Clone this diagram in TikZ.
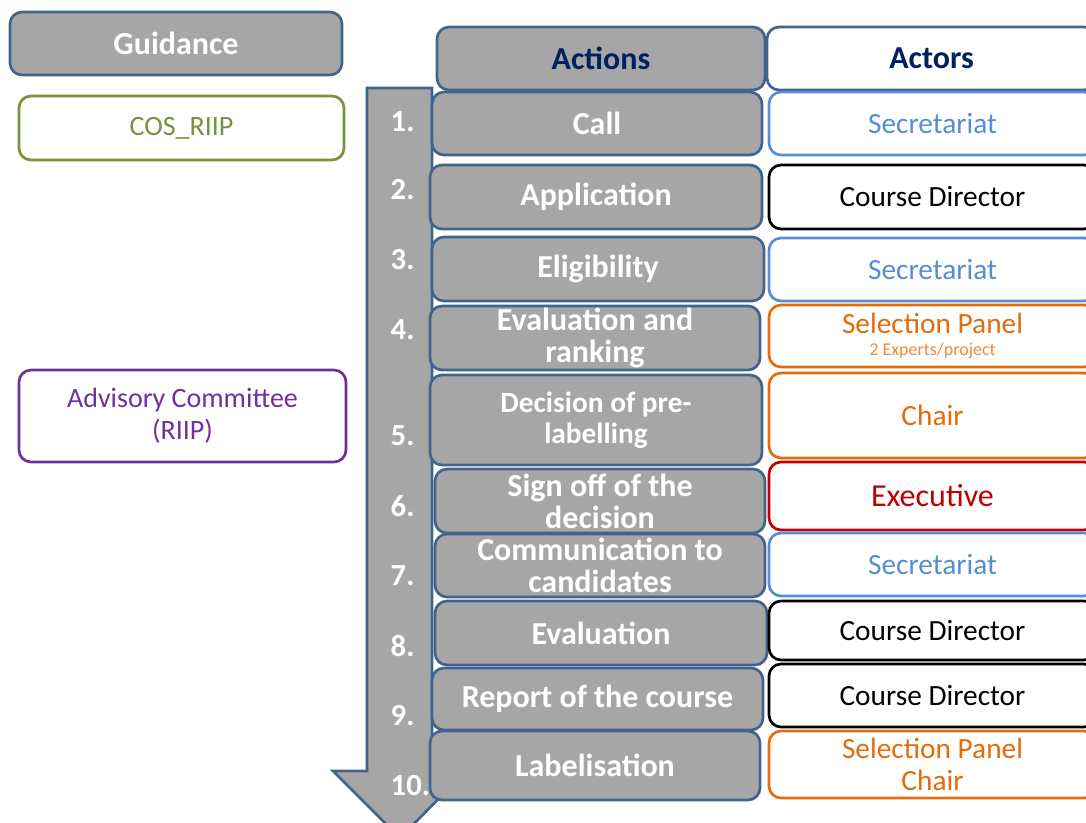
\documentclass[tikz,border=0pt]{standalone}
\usepackage{fontspec}
\setmainfont{Carlito}
\definecolor{boxgray}{HTML}{A6A6A6}
\definecolor{boxblue}{HTML}{41648F}
\definecolor{navy}{HTML}{002060}
\definecolor{lightblue}{HTML}{558ED5}
\definecolor{cosgreen}{HTML}{77933C}
\definecolor{advpurple}{HTML}{7030A0}
\definecolor{panelorange}{HTML}{E46C0A}
\definecolor{paleorange}{HTML}{F08A3C}
\definecolor{execred}{HTML}{C00000}
\begin{document}
\begin{tikzpicture}[x=0.75pt,y=-0.75pt,
    sz/.style 2 args={minimum width=#1*0.75pt, minimum height=#2*0.75pt},
    base/.style={rounded corners=9pt, line width=2pt, inner sep=0pt, align=center},
    act/.style={base, fill=boxgray, draw=boxblue, text=white, font=\bfseries\fontsize{24}{24}\selectfont},
    actor/.style={base, fill=white, draw=#1, text=#1, font=\fontsize{22}{24}\selectfont},
    side/.style={base, fill=white, draw=#1, text=#1, font=\fontsize{21}{24}\selectfont},
    num/.style={anchor=west, text=white, font=\bfseries\fontsize{23}{24}\selectfont}]

    \useasboundingbox (0,0) rectangle (1086,822);

    %big arrow
    \draw [fill=boxgray, draw=boxblue, line width=2pt, line join=miter]
        (367,88) -- (432,88) -- (432,771) -- (466,771) -- (400,838)
        -- (333,771) -- (367,771) -- cycle;

    %numbers
    \foreach \n/\y in {1/122,2/190,3/260,4/330,5/436,6/506,7/576,8/646,9/716,10/786}
        \node [num] (num\n) at (386,\y) {\n.};

    %left column
    \node [act, sz={332}{63}] (guidance) at (176,43.5) {Guidance};
    \node [side=cosgreen, sz={325}{64}] (cos) at (181.5,128) {COS\_RIIP};
    \node [side=advpurple, sz={327}{92}] (advisory) at (182.5,416) {Advisory Committee\\(RIIP)};

    %headers
    \node [act, text=navy, sz={328}{63}] (actions) at (601,58.5) {Actions};
    \node [base, fill=white, draw=boxblue, text=navy, font=\bfseries\fontsize{24}{24}\selectfont,
        sz={329}{63}] (actors) at (931.5,58.5) {Actors};

    %actions
    \node [act, sz={330}{63}] (a1) at (597,123.5) {Call};
    \node [act, sz={332}{64}] (a2) at (596,197) {Application};
    \node [act, sz={332}{64}] (a3) at (598,269) {Eligibility};
    \node [act, sz={330}{64}] (a4) at (595,338) {Evaluation and\\ranking};
    \node [act, font=\bfseries\fontsize{22}{23}\selectfont, sz={332}{90}] (a5) at (596,420) {Decision of pre-\\labelling};
    \node [act, sz={330}{64}] (a6) at (600,501) {Sign off of the\\decision};
    \node [act, sz={330}{63}] (a7) at (600,565.5) {Communication to\\candidates};
    \node [act, sz={332}{64}] (a8) at (601,633) {Evaluation};
    \node [act, sz={331}{62}] (a9) at (597.5,699) {Report of the course};
    \node [act, sz={330}{69}] (a10) at (595,765.5) {Labelisation};

    %actors
    \node [actor=lightblue, sz={327}{63}] (r1) at (932.5,123.5) {Secretariat};
    \node [actor=black, sz={327}{64}] (r2) at (932.5,197) {Course Director};
    \node [actor=lightblue, sz={327}{63}] (r3) at (932.5,269.5) {Secretariat};
    \node [actor=panelorange, sz={327}{62}] (r4) at (932.5,336)
        {Selection Panel\\[-7pt]{\color{paleorange}\fontsize{13.5}{15}\selectfont 2 Experts/project}};
    \node [actor=panelorange, sz={327}{85}] (r5) at (932.5,415.5) {Chair};
    \node [actor=execred, font=\fontsize{24}{24}\selectfont, sz={327}{68}] (r6) at (932.5,496) {Executive};
    \node [actor=lightblue, sz={327}{63}] (r7) at (932.5,564.5) {Secretariat};
    \node [actor=black, sz={327}{59}] (r8) at (932.5,630.5) {Course Director};
    \node [actor=black, sz={327}{63}] (r9) at (932.5,695.5) {Course Director};
    \node [actor=panelorange, sz={327}{67}] (r10) at (932.5,764.5) {Selection Panel\\Chair};

\end{tikzpicture}
\end{document}
